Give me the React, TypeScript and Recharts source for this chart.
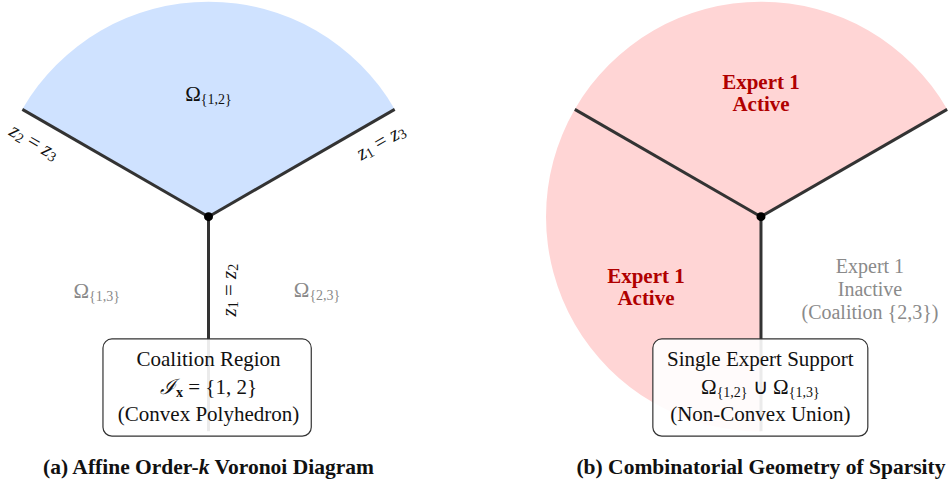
import React from "react"
import { ScatterChart, Scatter, XAxis, YAxis, Sector, Rectangle } from "recharts"

const W = 948
const H = 487
// diagram units: the bisector rays have length 1
const X_DOMAIN: [number, number] = [-0.97, 3.44]
const Y_DOMAIN: [number, number] = [-1.26, 1.01]
const PX = W / (X_DOMAIN[1] - X_DOMAIN[0])
const PY = H / (Y_DOMAIN[1] - Y_DOMAIN[0])

const SERIF = "'Liberation Serif', 'Times New Roman', serif"
const INK = "#333"
const RED = "#b00000"
const GREY = "#8a8a8a"

// the common vertex of the three bisectors, one per panel
const vertices = [
  { panel: "a", x: 0, y: 0 },
  { panel: "b", x: 2.57, y: 0 },
]
const rayAngles = [30, 150, 270]
const rayLength = 1

// shaded regions (angles in degrees, counter-clockwise from +x)
const regions = [
  { panel: "a", x: 0, y: 0, r: 1, start: 30, end: 150 },
  { panel: "b", x: 2.57, y: 0, r: 1, start: 30, end: 270 },
]

const omegaLabels = [
  { x: 0, y: 0.57, sub: "{1,2}", muted: false },
  { x: -0.52, y: -0.345, sub: "{1,3}", muted: true },
  { x: 0.505, y: -0.34, sub: "{2,3}", muted: true },
]

const bisectorLabels = [
  { x: -0.81, y: 0.35, i: "2", j: "3", angle: 30 },
  { x: 0.8, y: 0.35, i: "1", j: "3", angle: -30 },
  { x: 0.095, y: -0.342, i: "1", j: "2", angle: -90 },
]

const activeLabels = [
  { x: 2.57, y: 0.597, lines: ["Expert 1", "Active"] },
  { x: 2.035, y: -0.31, lines: ["Expert 1", "Active"] },
]
const inactiveLabels = [
  { x: 3.077, y: -0.235, lines: ["Expert 1", "Inactive", "(Coalition {2,3})"] },
]

const boxes = [
  { id: "a", x1: -0.491, x2: 0.478, y1: -1.023, y2: -0.57, cx: 0, top: -0.665 },
  { id: "b", x1: 2.067, x2: 3.067, y1: -1.023, y2: -0.57, cx: 2.567, top: -0.665 },
]

const captions = [
  { x: 0, y: -1.168, id: "a" },
  { x: 2.57, y: -1.168, id: "b" },
]

const rays = vertices.flatMap((v) =>
  rayAngles.map((a) => [
    { x: v.x, y: v.y },
    {
      x: v.x + rayLength * Math.cos((a * Math.PI) / 180),
      y: v.y + rayLength * Math.sin((a * Math.PI) / 180),
    },
  ])
)

const Nothing = () => <g />

const Omega = ({ sub }: { sub: string }) => (
  <>
    <tspan>Ω</tspan>
    <tspan dy={5} fontSize={14}>{sub}</tspan>
  </>
)

const BoxText = ({ id, x, y }: { id: string; x: number; y: number }) => {
  const common = {
    x,
    textAnchor: "middle" as const,
    dominantBaseline: "central" as const,
    fontSize: 21,
    fill: "#111",
    style: { fontFamily: SERIF },
  }
  const step = 27.5
  if (id === "a") {
    return (
      <g>
        <text {...common} y={y}>Coalition Region</text>
        <text {...common} y={y + step}>
          <tspan fontStyle="italic">ℐ</tspan>
          <tspan dy={5} fontSize={14} fontWeight="bold">x</tspan>
          <tspan dy={-5}> = {"{"}1, 2{"}"}</tspan>
        </text>
        <text {...common} y={y + 2 * step}>(Convex Polyhedron)</text>
      </g>
    )
  }
  return (
    <g>
      <text {...common} y={y}>Single Expert Support</text>
      <text {...common} y={y + step}>
        <tspan>Ω</tspan>
        <tspan dy={5} fontSize={14}>{"{1,2}"}</tspan>
        <tspan dy={-5}> ∪ Ω</tspan>
        <tspan dy={5} fontSize={14}>{"{1,3}"}</tspan>
      </text>
      <text {...common} y={y + 2 * step}>(Non-Convex Union)</text>
    </g>
  )
}

export default function App() {
  return (
    <div style={{ position: "absolute", left: 0, top: 0, background: "#fff" }}>
      <ScatterChart width={W} height={H} margin={{ top: 0, right: 0, bottom: 0, left: 0 }}>
        <XAxis type="number" dataKey="x" domain={X_DOMAIN} hide allowDataOverflow />
        <YAxis type="number" dataKey="y" domain={Y_DOMAIN} hide allowDataOverflow />

        <Scatter
          data={regions}
          isAnimationActive={false}
          shape={(p: any) => (
            <Sector
              cx={p.cx}
              cy={p.cy}
              innerRadius={0}
              outerRadius={p.payload.r * PX}
              startAngle={p.payload.start}
              endAngle={p.payload.end}
              fill={p.payload.panel === "a" ? "#cfe2ff" : "#ffd5d5"}
              stroke="none"
            />
          )}
        />

        {rays.map((seg, i) => (
          <Scatter
            key={i}
            data={seg}
            isAnimationActive={false}
            line={{ stroke: INK, strokeWidth: 3 }}
            lineType="joint"
            shape={Nothing}
          />
        ))}

        <Scatter
          data={vertices}
          isAnimationActive={false}
          shape={(p: any) => <circle cx={p.cx} cy={p.cy} r={4.5} fill="#000" />}
        />

        {/* rounded boxes: anchored at their top-left corner */}
        <Scatter
          data={boxes.map((b) => ({ x: b.x1, y: b.y2, w: b.x2 - b.x1, h: b.y2 - b.y1 }))}
          isAnimationActive={false}
          shape={(p: any) => (
            <Rectangle
              x={p.cx}
              y={p.cy}
              width={p.payload.w * PX}
              height={p.payload.h * PY}
              radius={9}
              fill="#fff"
              fillOpacity={0.9}
              stroke={INK}
              strokeWidth={1.2}
            />
          )}
        />

        <Scatter
          data={boxes.map((b) => ({ x: b.cx, y: b.top, id: b.id }))}
          isAnimationActive={false}
          shape={(p: any) => <BoxText id={p.payload.id} x={p.cx} y={p.cy} />}
        />

        <Scatter
          data={omegaLabels}
          isAnimationActive={false}
          shape={(p: any) => (
            <text
              x={p.cx}
              y={p.cy}
              textAnchor="middle"
              dominantBaseline="central"
              fontSize={21}
              fill={p.payload.muted ? GREY : "#111"}
              style={{ fontFamily: SERIF }}
            >
              <Omega sub={p.payload.sub} />
            </text>
          )}
        />

        <Scatter
          data={bisectorLabels}
          isAnimationActive={false}
          shape={(p: any) => (
            <text
              x={p.cx}
              y={p.cy}
              textAnchor="middle"
              dominantBaseline="central"
              fontSize={21}
              fill="#111"
              style={{ fontFamily: SERIF }}
              transform={`rotate(${p.payload.angle}, ${p.cx}, ${p.cy})`}
            >
              <tspan fontStyle="italic">z</tspan>
              <tspan dy={4} fontSize={14}>{p.payload.i}</tspan>
              <tspan dy={-4}> = </tspan>
              <tspan fontStyle="italic">z</tspan>
              <tspan dy={4} fontSize={14}>{p.payload.j}</tspan>
            </text>
          )}
        />

        <Scatter
          data={activeLabels}
          isAnimationActive={false}
          shape={(p: any) => (
            <text
              x={p.cx}
              y={p.cy}
              textAnchor="middle"
              fontSize={21}
              fontWeight="bold"
              fill={RED}
              style={{ fontFamily: SERIF }}
            >
              {p.payload.lines.map((t: string, k: number) => (
                <tspan key={k} x={p.cx} dy={k === 0 ? 0 : 22}>
                  {t}
                </tspan>
              ))}
            </text>
          )}
        />

        <Scatter
          data={inactiveLabels}
          isAnimationActive={false}
          shape={(p: any) => (
            <text x={p.cx} y={p.cy} textAnchor="middle" fontSize={20} fill={GREY} style={{ fontFamily: SERIF }}>
              {p.payload.lines.map((t: string, k: number) => (
                <tspan key={k} x={p.cx} dy={k === 0 ? 6 : 23}>
                  {t}
                </tspan>
              ))}
            </text>
          )}
        />

        <Scatter
          data={captions}
          isAnimationActive={false}
          shape={(p: any) => (
            <text
              x={p.cx}
              y={p.cy}
              textAnchor="middle"
              dominantBaseline="central"
              fontSize={21.5}
              fontWeight="bold"
              fill="#111"
              style={{ fontFamily: SERIF }}
            >
              {p.payload.id === "a" ? (
                <>
                  (a) Affine Order-<tspan fontStyle="italic">k</tspan> Voronoi Diagram
                </>
              ) : (
                "(b) Combinatorial Geometry of Sparsity"
              )}
            </text>
          )}
        />
      </ScatterChart>
    </div>
  )
}
